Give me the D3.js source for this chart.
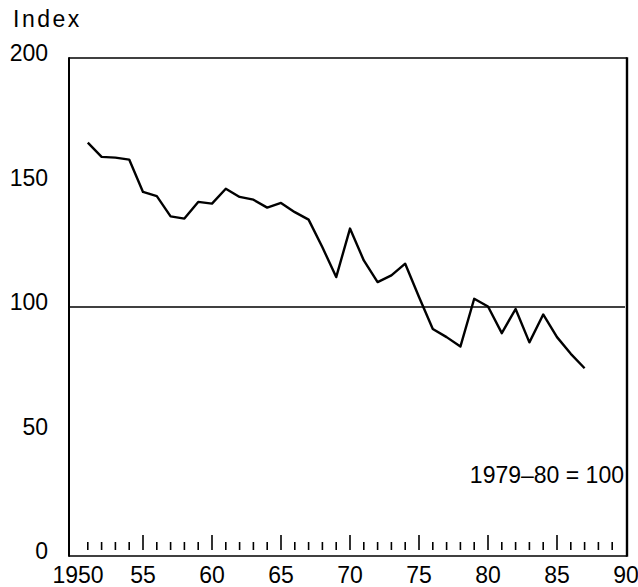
<!DOCTYPE html>
<html lang="en">
    <head>
        <meta charset="utf-8">
        <title>Index, 1979-80 = 100</title>
        <script src="https://d3js.org/d3.v7.min.js"></script>
        <style type="text/css">
        body {
            margin: 0;
            background: #ffffff;
        }

        .label {
            font-family: "Liberation Sans", Arial, sans-serif;
            font-size: 23px;
            fill: #000000;
        }

        .title {
            font-family: "Liberation Sans", Arial, sans-serif;
            font-size: 23px;
            letter-spacing: 2.5px;
            fill: #000000;
        }
        </style>
    </head>
    <body>
    <div id="vis"></div>

    <script type="text/javascript">

        const width = 638;
        const height = 587;

        // values, one per year
        const years = [1951, 1952, 1953, 1954, 1955, 1956, 1957, 1958, 1959, 1960,
                       1961, 1962, 1963, 1964, 1965, 1966, 1967, 1968, 1969, 1970,
                       1971, 1972, 1973, 1974, 1975, 1976, 1977, 1978, 1979, 1980,
                       1981, 1982, 1983, 1984, 1985, 1986, 1987];
        const index = [166, 160.3, 160, 159.2, 146.2, 144.5, 136.4, 135.5, 142.2, 141.5,
                       147.5, 144.2, 143.1, 139.9, 141.8, 138.1, 135.1, 124, 112, 131.5,
                       118.7, 110, 112.7, 117.4, 104, 91.2, 87.9, 84.1, 103.3, 100.2,
                       89.5, 99.2, 85.8, 97, 87.9, 81.2, 75.4];

        const yTicks = [0, 50, 100, 150, 200];
        const xTicks = [1950, 1955, 1960, 1965, 1970, 1975, 1980, 1985, 1990];
        const xTickLabels = ["1950", "55", "60", "65", "70", "75", "80", "85", "90"];
        const baseValue = 100;
        const baseNote = "1979\u201380 = 100";

        const frameLeft = 69;
        const frameRight = 627;

        const xScale = d3.scaleLinear()
                         .domain([1950, 1990])
                         .range([74, 626]);

        const yScale = d3.scaleLinear()
                         .domain([0, 200])
                         .range([556, 58]);

        const svg = d3.select("#vis")
                      .append("svg")
                      .attr("width", width)
                      .attr("height", height);

        // frame
        svg.append("line")
           .attr("x1", frameLeft).attr("x2", frameRight)
           .attr("y1", yScale(200)).attr("y2", yScale(200))
           .attr("stroke", "black").attr("stroke-width", 1.6);
        svg.append("line")
           .attr("x1", frameLeft).attr("x2", frameRight)
           .attr("y1", yScale(0)).attr("y2", yScale(0))
           .attr("stroke", "black").attr("stroke-width", 1.6);
        svg.append("line")
           .attr("x1", frameLeft).attr("x2", frameLeft)
           .attr("y1", yScale(200) - 0.8).attr("y2", yScale(0) + 0.8)
           .attr("stroke", "black").attr("stroke-width", 2);
        svg.append("line")
           .attr("x1", frameRight).attr("x2", frameRight)
           .attr("y1", yScale(200) - 0.8).attr("y2", yScale(0) + 0.8)
           .attr("stroke", "black").attr("stroke-width", 2.4);

        // year ticks inside the plot, above the base line
        const yearTicks = d3.range(1951, 1990);
        svg.selectAll(".tick")
           .data(yearTicks)
           .enter()
           .append("line")
           .attr("class", "tick")
           .attr("x1", d => xScale(d))
           .attr("x2", d => xScale(d))
           .attr("y1", d => d % 5 === 0 ? yScale(0) - 21 : yScale(0) - 14)
           .attr("y2", yScale(0) - 6)
           .attr("stroke", "black")
           .attr("stroke-width", 1.6);

        // x labels
        svg.selectAll(".xlabel")
           .data(xTicks)
           .enter()
           .append("text")
           .attr("class", "label")
           .attr("x", (d, i) => i === 0 ? xScale(d) + 4 : xScale(d))
           .attr("y", 583)
           .attr("text-anchor", "middle")
           .text((d, i) => xTickLabels[i]);

        // y labels
        svg.selectAll(".ylabel")
           .data(yTicks)
           .enter()
           .append("text")
           .attr("class", "label")
           .attr("x", 48)
           .attr("y", d => yScale(d) + 3)
           .attr("text-anchor", "end")
           .text(d => d);

        svg.append("text")
           .attr("class", "title")
           .attr("x", 13)
           .attr("y", 27)
           .text("Index");

        // base line at 100
        svg.append("line")
           .attr("x1", frameLeft)
           .attr("x2", 625)
           .attr("y1", yScale(baseValue))
           .attr("y2", yScale(baseValue))
           .attr("stroke", "black")
           .attr("stroke-width", 1.3);

        const line = d3.line()
                       .x((d, i) => xScale(years[i]))
                       .y(d => yScale(d));

        svg.append("path")
           .datum(index)
           .attr("d", line)
           .attr("fill", "none")
           .attr("stroke", "black")
           .attr("stroke-width", 2.4)
           .attr("stroke-linejoin", "round");

        svg.append("text")
           .attr("class", "label")
           .attr("x", 624)
           .attr("y", 483)
           .attr("text-anchor", "end")
           .text(baseNote);

    </script>
    </body>
</html>
